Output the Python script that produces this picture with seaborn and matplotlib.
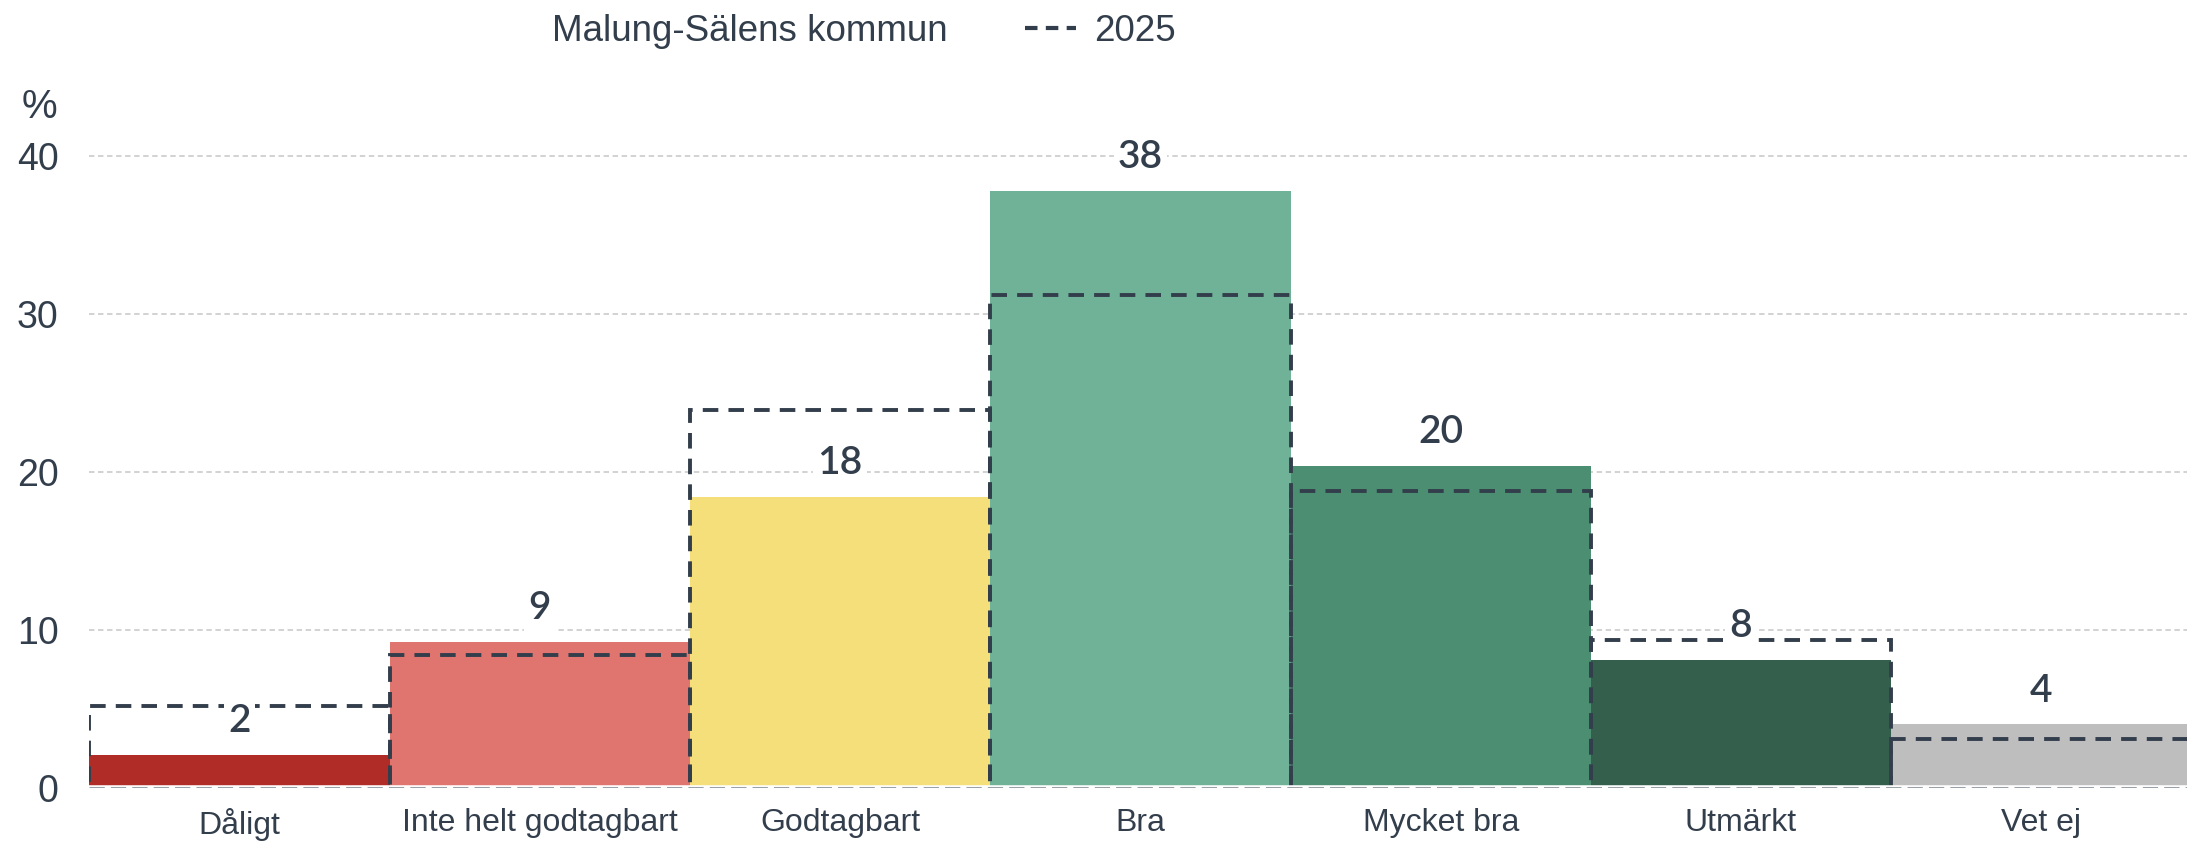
import numpy as np
import pandas as pd
import seaborn as sns
import matplotlib.pyplot as plt
from matplotlib.lines import Line2D
from matplotlib.patches import Patch


################################################################################

CATEGORIES = ["Dåligt", "Inte helt godtagbart", "Godtagbart", "Bra",
              "Mycket bra", "Utmärkt", "Vet ej"]
VALUES = [2.05, 9.2, 18.4, 37.8, 20.4, 8.1, 4.0]
VALUES_2025 = [5.2, 8.4, 23.9, 31.2, 18.8, 9.35, 3.1]
COLORS = ["#B02C26", "#E0746E", "#F5DF7B", "#6FB297", "#4B8E72", "#335F4C", "#BEBEBE"]
YTICKS = [0, 10, 20, 30, 40]

SERIES_LABEL = "Malung-Sälens kommun"
PREV_LABEL = "2025"
Y_LABEL = "%"

TEXT = "#333e4c"
FONT = ["Liberation Sans", "DejaVu Sans"]


def plotBars(df, ax):

  sns.barplot(data=df, x="cat", y="val", hue="cat", palette=COLORS, legend=False,
              width=1.0, saturation=1, linewidth=0, zorder=2, ax=ax)

  # previous year as dashed outlines
  x = np.arange(len(df))
  ax.bar(x, df["prev"], width=1.0, fill=False, edgecolor=TEXT,
         linewidth=2.8, linestyle=(0, (4, 2.6)), zorder=3)

  ax.axhline(0, color="white", linewidth=4, zorder=4)
  ax.axhline(0, color="#9aa1a9", linewidth=2.2, linestyle=(0, (5, 2)), zorder=5)

  for i, v in enumerate(df["val"]):
    ax.text(i, v + 2.15, str(int(round(v))), ha="center", va="center",
            fontsize=28, family="Lato", weight="semibold", color=TEXT, zorder=6,
            bbox=dict(facecolor="white", edgecolor="none", pad=3))


def main():

  sns.set_theme(style="white")
  plt.rcParams["font.family"] = FONT

  df = pd.DataFrame({"cat": CATEGORIES, "val": VALUES, "prev": VALUES_2025})

  fig = plt.figure(figsize=(21.87, 8.42), dpi=100)
  ax = fig.add_axes([0.0408, 0.0646, 0.9592, 0.825])

  plotBars(df, ax)

  ax.set_xlim(-0.5, len(CATEGORIES) - 0.515)
  ax.set_ylim(0, 44)
  ax.set_yticks(YTICKS)
  ax.yaxis.grid(True, linestyle=(0, (3, 2)), color="#cfcfcf", linewidth=1.3)
  ax.set_axisbelow(True)
  ax.set_xlabel("")
  ax.set_ylabel("")
  ax.tick_params(axis="y", length=0, pad=22, labelsize=27, labelcolor=TEXT)
  ax.tick_params(axis="x", length=0, pad=15, labelsize=23, labelcolor=TEXT)
  sns.despine(ax=ax, left=True, bottom=True)

  fig.text(0.018, 0.873, Y_LABEL, fontsize=29, color=TEXT, ha="center", va="center")

  handles = [Patch(facecolor="none", edgecolor="none", label=SERIES_LABEL),
             Line2D([], [], color=TEXT, linewidth=3, linestyle=(0, (3, 2)), label=PREV_LABEL)]
  leg = fig.legend(handles=handles, loc="center", bbox_to_anchor=(0.379, 0.963), ncol=2,
                   frameon=False, fontsize=26.5, handlelength=1.4, handletextpad=0.5,
                   columnspacing=2.1)
  for t in leg.get_texts():
    t.set_color(TEXT)

  fig.savefig("out.png", dpi=100)


main()
